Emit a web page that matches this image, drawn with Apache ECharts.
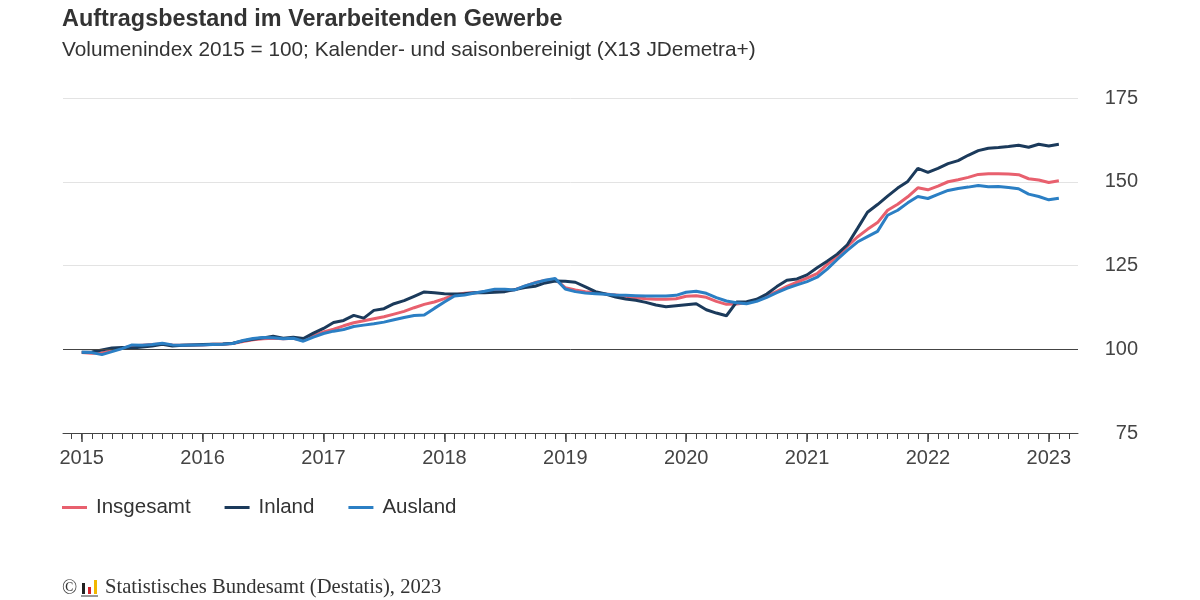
<!DOCTYPE html>
<html>
<head>
<meta charset="utf-8">
<script src="https://cdn.jsdelivr.net/npm/echarts@6/dist/echarts.min.js"></script>
<style>
  html, body { margin: 0; padding: 0; background: #fff; }
  #chart { width: 1200px; height: 600px; }
</style>
</head>
<body>
<div id="chart"></div>
<script>
// Monatswerte Jan 2015 - Feb 2023, Volumenindex 2015 = 100
const startYear = 2015
const yearTicks = [0, 12, 24, 36, 48, 60, 72, 84, 96]
const yTicks = [75, 100, 125, 150, 175]

const insgesamt = [
  99.0, 98.8, 98.9, 99.6, 100.3, 101.0, 101.2, 101.4, 101.6, 101.3, 101.2, 101.3,
  101.3, 101.5, 101.5, 101.7, 102.3, 102.8, 103.1, 103.3, 103.1, 103.3, 102.6, 104.0,
  105.2, 106.0, 107.0, 107.9, 108.5, 109.1, 109.7, 110.5, 111.3, 112.4, 113.4, 114.1,
  115.1, 116.2, 116.7, 116.9, 117.1, 117.3, 117.4, 117.8, 118.8, 119.9, 120.5, 120.9,
  118.4, 117.7, 117.2, 116.9, 116.5, 116.2, 115.8, 115.4, 115.1, 114.9, 114.9, 115.1,
  115.8, 116.0, 115.5, 114.3, 113.4, 113.5, 113.9, 114.6, 115.9, 117.3, 118.8, 120.0,
  121.2, 122.6, 125.3, 127.8, 130.7, 133.5, 135.8, 137.8, 141.5, 143.3, 145.5, 148.2,
  147.6, 148.7, 150.0, 150.6, 151.3, 152.2, 152.4, 152.4, 152.3, 152.1, 150.9, 150.5,
  149.8, 150.3
]

const inland = [
  99.1, 99.2, 99.8, 100.4, 100.5, 100.4, 100.7, 101.0, 101.5, 101.0, 101.2, 101.3,
  101.4, 101.5, 101.6, 101.8, 102.5, 103.0, 103.4, 103.9, 103.3, 103.6, 103.2, 104.8,
  106.2, 108.0, 108.6, 110.1, 109.3, 111.6, 112.1, 113.6, 114.5, 115.8, 117.1, 116.9,
  116.6, 116.5, 116.6, 116.9, 116.9, 117.0, 117.2, 117.8, 118.4, 118.8, 119.8, 120.4,
  120.3, 120.0, 118.6, 117.2, 116.5, 115.6, 115.0, 114.6, 114.0, 113.2, 112.7, 113.0,
  113.3, 113.6, 111.8, 110.8, 110.0, 114.1, 114.2, 114.9, 116.5, 118.7, 120.6, 121.0,
  122.2, 124.3, 126.3, 128.4, 131.2, 136.0, 140.9, 143.2, 145.7, 148.1, 150.1, 154.0,
  152.8, 154.0, 155.4, 156.3, 157.9, 159.3, 160.0, 160.2, 160.5, 160.9, 160.3, 161.2,
  160.7, 161.2
]

const ausland = [
  99.1, 99.0, 98.4, 99.3, 100.2, 101.3, 101.2, 101.4, 101.8, 101.3, 101.2, 101.3,
  101.3, 101.4, 101.5, 101.7, 102.6, 103.2, 103.5, 103.4, 103.1, 103.3, 102.4, 103.6,
  104.7, 105.4, 105.9, 106.8, 107.2, 107.6, 108.1, 108.8, 109.5, 110.1, 110.2, 112.2,
  114.1, 115.9, 116.2, 116.8, 117.3, 117.9, 117.9, 117.7, 118.9, 119.8, 120.6, 121.1,
  118.0, 117.2, 116.8, 116.6, 116.4, 116.2, 116.1, 116.0, 115.9, 115.9, 115.9, 116.1,
  117.0, 117.3, 116.7, 115.4, 114.4, 113.9, 113.6, 114.3, 115.5, 116.9, 118.2, 119.2,
  120.2, 121.5, 123.9, 126.8, 129.5, 132.0, 133.6, 135.2, 140.0, 141.5, 143.7, 145.6,
  145.0, 146.2, 147.4, 148.0, 148.4, 148.9, 148.5, 148.6, 148.3, 147.9, 146.3, 145.6,
  144.6, 145.1
]

// Monatsstriche -1 .. 98
const monthTicks = []
for (let m = -1; m <= 98; m++) monthTicks.push(m)

const toPairs = (arr) => arr.map((v, i) => [i, v])

const xMin = -1.86
const xMax = 98.9
const font = 'Liberation Sans, Arial, sans-serif'

const myChart = echarts.init(document.getElementById('chart'))

myChart.setOption({
  animation: false,
  textStyle: { fontFamily: font },
  title: {
    text: 'Auftragsbestand im Verarbeitenden Gewerbe',
    subtext: 'Volumenindex 2015 = 100; Kalender- und saisonbereinigt (X13 JDemetra+)',
    left: 57,
    top: 3,
    itemGap: 9,
    textStyle: { fontSize: 23.4, fontWeight: 'bold', color: '#333', fontFamily: font },
    subtextStyle: { fontSize: 20.8, color: '#333', fontFamily: font },
  },
  legend: {
    left: 62,
    top: 497,
    padding: 0,
    icon: 'rect',
    itemWidth: 25,
    itemHeight: 3,
    itemGap: 34,
    textStyle: { fontSize: 20.5, color: '#333', padding: [0, 0, 0, 4] },
    data: ['Insgesamt', 'Inland', 'Ausland'],
  },
  grid: { left: 63, right: 122, top: 98, bottom: 167, containLabel: false },
  xAxis: [
    {
      // Monatsstriche + Achsenlinie
      type: 'value',
      min: xMin,
      max: xMax,
      axisLine: { show: true, lineStyle: { color: '#444', width: 1 } },
      axisTick: {
        show: true,
        customValues: monthTicks,
        length: 6,
        lineStyle: { color: '#444' },
      },
      axisLabel: { show: false },
      splitLine: { show: false },
    },
    {
      // Jahresstriche + Beschriftung
      type: 'value',
      position: 'bottom',
      min: xMin,
      max: xMax,
      axisLine: { show: false },
      axisTick: {
        show: true,
        customValues: yearTicks,
        length: 9,
        lineStyle: { color: '#444', width: 1.5 },
      },
      axisLabel: {
        customValues: yearTicks,
        formatter: (v) => String(startYear + Math.round(v / 12)),
        fontSize: 20,
        color: '#444',
        margin: 15,
      },
      splitLine: { show: false },
    },
  ],
  yAxis: {
    type: 'value',
    position: 'right',
    min: 75,
    max: 175,
    interval: 25,
    axisLine: { show: false },
    axisTick: { show: false },
    axisLabel: { fontSize: 20, color: '#444', align: 'right', margin: 60 },
    splitLine: { lineStyle: { color: '#e3e3e3', width: 1 } },
  },
  series: [
    {
      name: 'Insgesamt',
      type: 'line',
      data: toPairs(insgesamt),
      showSymbol: false,
      color: '#e8606e',
      lineStyle: { width: 3 },
      markLine: {
        silent: true,
        symbol: 'none',
        label: { show: false },
        lineStyle: { color: '#444', width: 1, type: 'solid' },
        data: [{ yAxis: 100 }],
      },
      z: 3,
    },
    {
      name: 'Inland',
      type: 'line',
      data: toPairs(inland),
      showSymbol: false,
      color: '#1b3a5b',
      lineStyle: { width: 3 },
      z: 4,
    },
    {
      name: 'Ausland',
      type: 'line',
      data: toPairs(ausland),
      showSymbol: false,
      color: '#2b7fc4',
      lineStyle: { width: 3 },
      z: 5,
    },
  ],
  graphic: [
    {
      type: 'text',
      left: 62,
      top: 579,
      style: { text: '©', fontSize: 20, fill: '#333', fontFamily: 'Liberation Serif, serif' },
    },
    // kleines Logo
    { type: 'rect', shape: { x: 82, y: 583, width: 3, height: 11 }, style: { fill: '#222' } },
    { type: 'rect', shape: { x: 88, y: 587, width: 3, height: 7 }, style: { fill: '#d4232b' } },
    { type: 'rect', shape: { x: 94, y: 580, width: 3, height: 14 }, style: { fill: '#f2b700' } },
    { type: 'rect', shape: { x: 81, y: 595, width: 17, height: 2 }, style: { fill: '#999' } },
    {
      type: 'text',
      left: 105,
      top: 577,
      style: {
        text: 'Statistisches Bundesamt (Destatis), 2023',
        fontSize: 20.6,
        fill: '#333',
        fontFamily: 'Liberation Serif, serif',
      },
    },
  ],
})
</script>
</body>
</html>
